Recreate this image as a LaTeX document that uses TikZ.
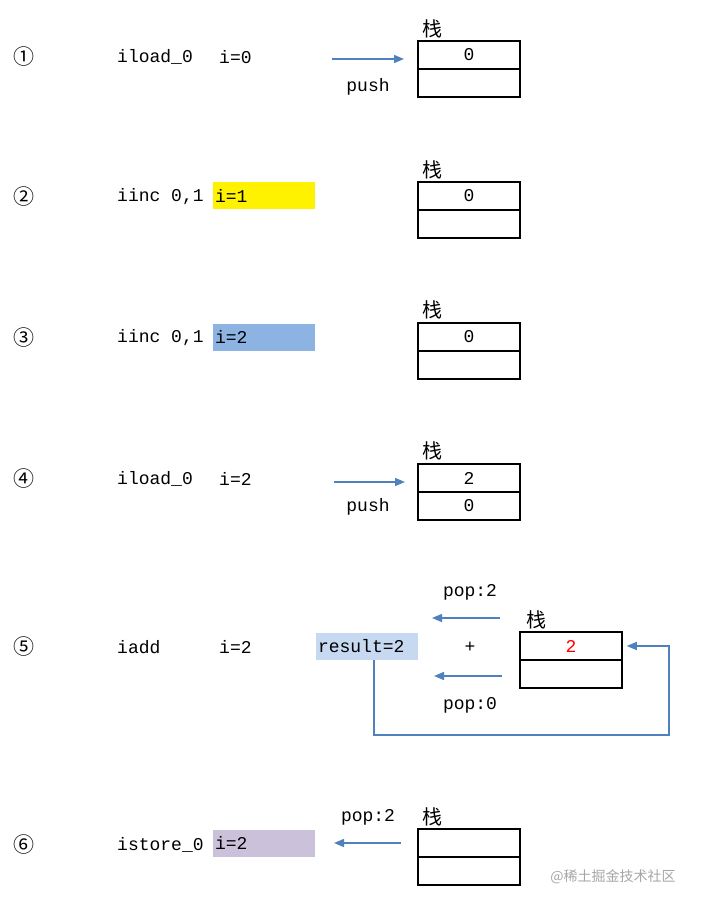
\documentclass[tikz,border=0pt]{standalone}
\usepackage{fontspec}
\setmainfont{Liberation Mono}
\newfontfamily\cjk{Noto Sans CJK SC}
\usetikzlibrary{arrows.meta}
\definecolor{arr}{HTML}{4F81BD}
\begin{document}
\begin{tikzpicture}[x=1pt,y=-1pt,
  txt/.style={anchor=west,inner sep=0pt,font=\fontsize{18}{18}\selectfont},
  ctr/.style={inner sep=0pt,font=\fontsize{18}{18}\selectfont},
  num/.style={inner sep=0pt,font=\cjk\fontsize{21}{21}\selectfont},
  zh/.style={inner sep=0pt,font=\cjk\fontsize{20}{20}\selectfont},
  cell/.style={draw=black,line width=1.5pt,minimum width=102pt,minimum height=28pt,inner sep=0pt,font=\fontsize{18}{18}\selectfont},
  hl/.style={minimum width=102pt,minimum height=27pt,inner sep=2pt,font=\fontsize{18}{18}\selectfont,text width=98pt,align=left},
  ar/.style={draw=arr,line width=1.4pt,-{Triangle[length=10pt,width=8pt]}}]
\useasboundingbox (0,0) rectangle (703,909);
% row 1
\node[num] (n1) at (24,57) {①};
\node[txt] (c1) at (117,57) {iload\_0};
\node[txt] (c1b) at (219,57) {i=0};
\coordinate (a1s) at (332,59);
\coordinate (a1e) at (404,59);
\node[cell] (s1a) at (469,55) {0};
\node[cell] (s1b) at (469,83) {};
\draw[ar] (a1s) -- (a1e);
\node[ctr] (p1) at (368,87) {push};
\node[zh] (z1) at (432,29) {栈};
% row 2
\node[num] (n2) at (24,197) {②};
\node[txt] (c2) at (117,197) {iinc 0,1};
\node[hl,fill=yellow] (h2) at (264,196) {i=1};
\node[cell] (s2a) at (469,196) {0};
\node[cell] (s2b) at (469,224) {};
\node[zh] (z2) at (432,170) {栈};
% row 3
\node[num] (n3) at (24,338) {③};
\node[txt] (c3) at (117,338) {iinc 0,1};
\node[hl,fill={rgb,255:red,141;green,179;blue,226}] (h3) at (264,337) {i=2};
\node[cell] (s3a) at (469,337) {0};
\node[cell] (s3b) at (469,365) {};
\node[zh] (z3) at (432,310) {栈};
% row 4
\node[num] (n4) at (24,479) {④};
\node[txt] (c4) at (117,479) {iload\_0};
\node[txt] (c4b) at (219,479) {i=2};
\coordinate (a4s) at (334,482);
\coordinate (a4e) at (405,482);
\node[cell] (s4a) at (469,478) {2};
\node[cell] (s4b) at (469,506) {0};
\draw[ar] (a4s) -- (a4e);
\node[ctr] (p4) at (368,507) {push};
\node[zh] (z4) at (432,451) {栈};
% row 5
\node[num] (n5) at (24,647) {⑤};
\node[txt] (c5) at (117,647) {iadd};
\node[txt] (c5b) at (219,647) {i=2};
\node[hl,fill={rgb,255:red,198;green,217;blue,241}] (h5) at (367,646) {result=2};
\node[ctr] (p5a) at (470,592) {pop:2};
\coordinate (b1s) at (500,618);
\coordinate (b1e) at (432,618);
\draw[ar] (b1s) -- (b1e);
\node[ctr] (plus) at (470,647) {+};
\coordinate (b2s) at (502,676);
\coordinate (b2e) at (434,676);
\draw[ar] (b2s) -- (b2e);
\node[ctr] (p5b) at (470,705) {pop:0};
\node[cell,text=red] (s5a) at (571,646) {2};
\node[cell] (s5b) at (571,674) {};
\node[zh] (z5) at (536,620) {栈};
\coordinate (l1) at (374,735);
\coordinate (l2) at (669,735);
\coordinate (l3) at (669,646);
\draw[ar] (h5.south-|l1) -- (l1) -- (l2) -- (l3) -- ([xshift=4pt]s5a.east);
% row 6
\node[num] (n6) at (24,845) {⑥};
\node[txt] (c6) at (117,845) {istore\_0};
\node[hl,fill={rgb,255:red,204;green,193;blue,218}] (h6) at (264,843) {i=2};
\node[cell] (s6a) at (469,843) {};
\node[cell] (s6b) at (469,871) {};
\node[zh] (z6) at (432,817) {栈};
\node[ctr] (p6) at (368,817) {pop:2};
\coordinate (c6s) at (401,843);
\coordinate (c6e) at (334,843);
\draw[ar] (c6s) -- (c6e);
\node[inner sep=0pt,text=black!35,font=\cjk\fontsize{14}{14}\selectfont] (wm) at (613,877) {@稀土掘金技术社区};
\end{tikzpicture}
\end{document}
